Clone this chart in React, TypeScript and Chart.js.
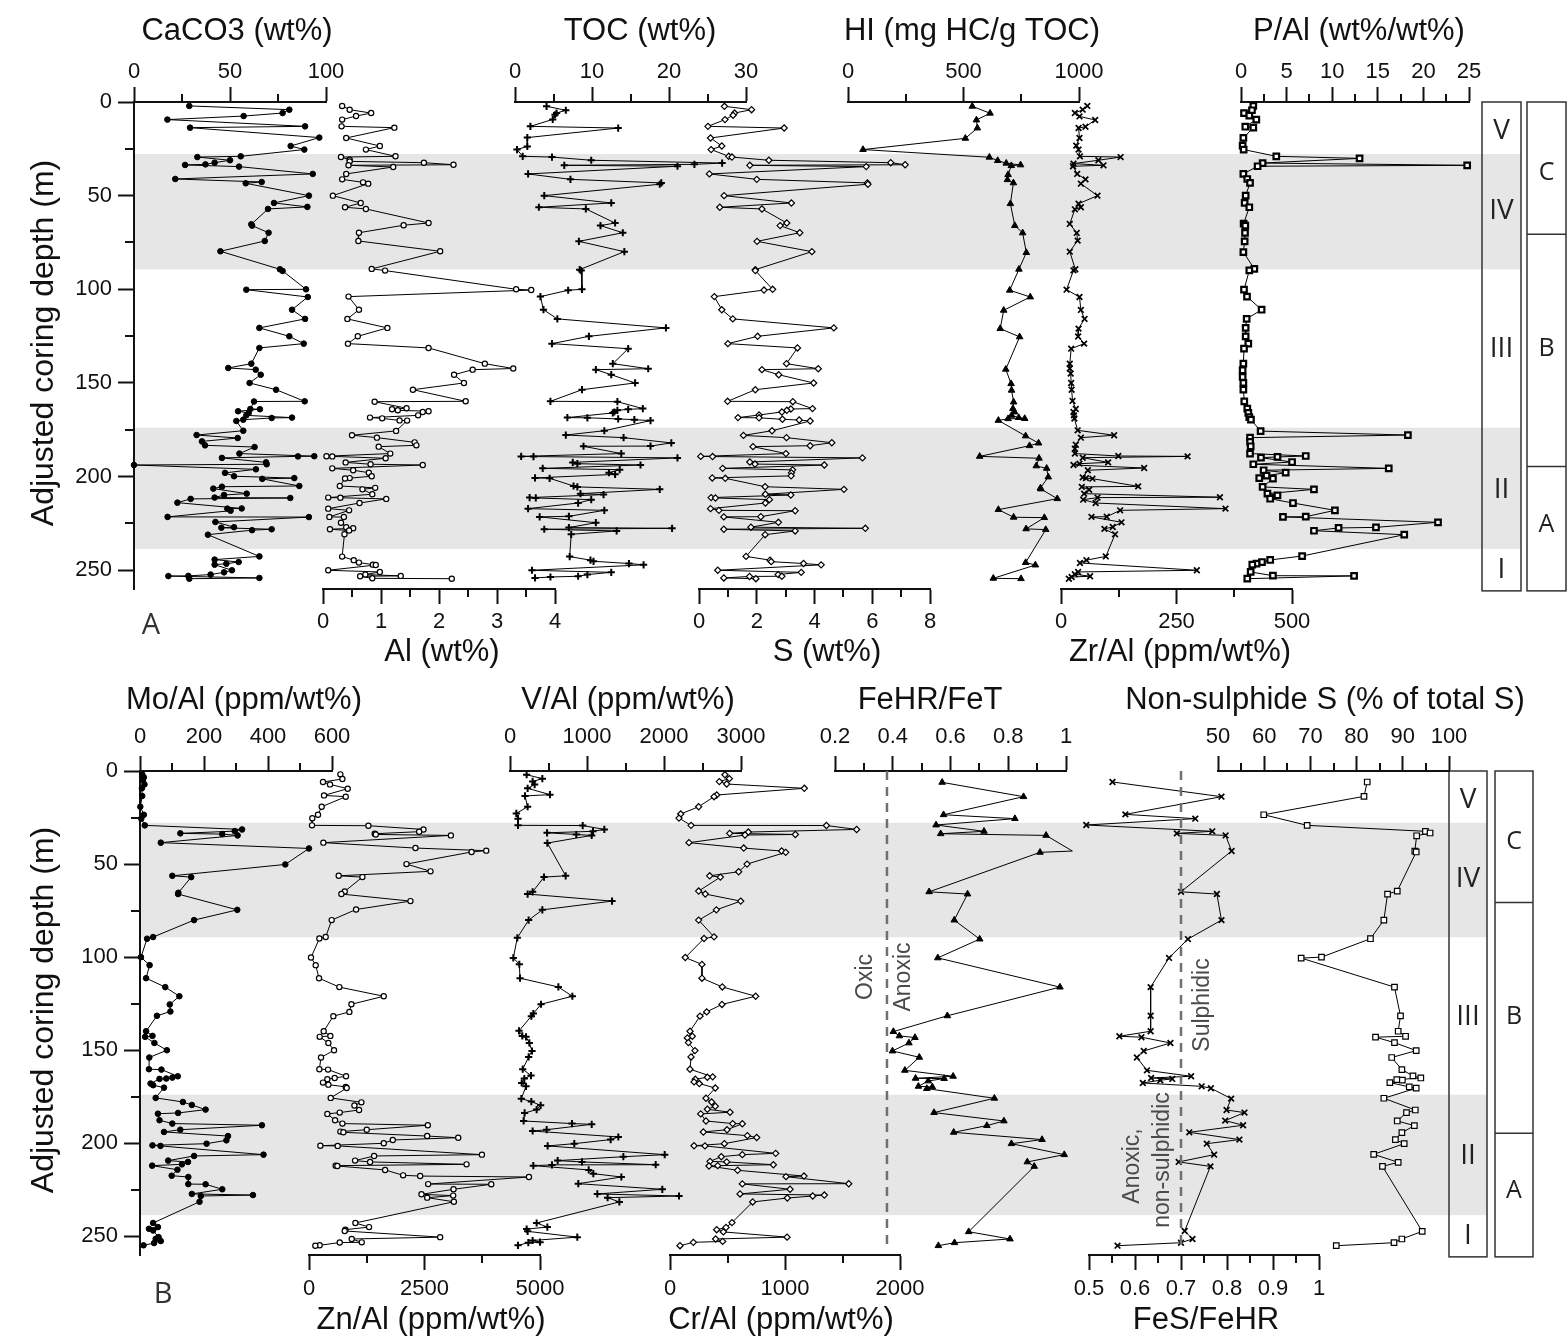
import React, { useEffect, useRef } from 'react';
import { Chart, registerables } from 'chart.js';

Chart.register(...registerables);

// ---------------- data (depth in m, values per proxy) ----------------
const CACO3_DEPTH = [2.1,4.1,5.9,7.5,9.4,13.0,13.7,19.0,23.5,25.4,29.0,29.4,31.1,32.4,33.3,33.6,34.5,38.4,41.1,42.7,43.4,50.0,53.9,56.0,57.1,65.3,66.0,69.8,74.2,79.7,89.3,90.2,100.0,100.2,104.1,110.9,115.8,120.6,125.1,129.0,131.3,139.7,142.0,142.9,145.6,150.0,153.6,159.8,159.9,163.9,164.0,165.1,166.0,167.3,168.5,168.7,169.6,170.3,175.5,177.8,179.4,181.2,183.3,184.2,187.7,189.1,189.2,190.0,192.4,193.4,193.8,196.1,198.0,199.8,200.8,201.2,205.0,205.4,206.4,209.1,209.8,211.2,211.4,211.9,213.9,217.0,217.1,218.2,221.5,221.6,224.2,227.0,227.3,228.1,228.6,231.0,242.6,244.3,245.6,246.5,247.0,250.0,251.1,252.3,253.0,253.1,254.1,254.5];
const CACO3_WT = [28.8,80.9,77.4,57.1,17.4,89.1,29.2,96.5,81.6,88.7,55.6,33.0,50.0,42.0,37.2,26.6,54.7,93.1,21.5,66.5,58.2,91.1,72.9,90.3,69.8,61.1,61.5,70.1,68.1,45.0,76.0,77.4,89.6,58.5,90.5,82.3,89.1,65.3,80.9,88.4,65.3,61.1,49.1,63.4,66.0,60.2,74.0,88.9,62.5,60.6,65.6,54.2,59.7,58.5,82.3,71.7,56.9,53.3,56.9,32.6,54.0,35.4,37.0,62.8,54.9,93.9,85.4,45.8,68.8,69.1,0,63.5,47.4,52.1,83.5,66.8,86.1,45.8,41.3,58.7,46.9,42.0,81.4,29.5,22.6,56.1,48.6,50.3,17.5,91.1,42.4,52.1,45.5,71.7,61.5,38.5,65.3,42.0,54.5,48.1,42.0,51.0,46.9,39.9,28.3,17.9,65.3,28.8];

const AL_DEPTH = [2.1,4.1,5.9,7.5,9.4,13.0,13.7,19.2,23.5,25.4,29.0,29.4,30.8,31.7,32.4,33.5,33.8,34.7,38.4,41.3,42.9,43.6,50.0,53.9,56.2,57.1,64.6,65.8,69.8,74.2,79.7,89.1,90.0,100.0,100.4,103.9,110.9,115.8,120.6,125.1,129.0,131.3,139.7,142.3,142.9,145.6,150.0,153.6,159.8,160.0,163.5,164.0,164.6,165.1,165.5,167.3,168.5,168.9,170.0,170.1,175.6,177.9,179.2,181.7,183.3,184.0,187.7,189.1,189.2,190.2,192.4,193.4,193.8,195.6,196.6,197.9,199.8,200.8,201.0,205.0,206.0,206.8,209.4,211.2,211.3,211.9,214.1,217.1,218.0,221.5,221.6,224.6,227.0,227.6,228.1,228.8,230.8,242.7,244.6,245.9,247.0,247.2,250.0,250.9,252.3,253.0,253.2,254.3,254.5];
const AL_WT = [0.33,0.46,0.83,0.57,0.33,0.32,1.23,0.40,0.98,0.74,1.25,0.31,0.46,0.46,1.74,2.25,0.44,1.21,0.40,0.33,0.69,0.78,0.17,0.65,0.38,0.74,1.82,1.39,0.62,0.61,2.02,0.84,1.07,3.33,3.59,0.44,0.62,0.42,1.11,0.60,0.43,1.82,2.79,3.28,2.58,2.26,2.43,1.55,2.46,0.89,1.44,1.19,1.29,1.82,1.72,1.64,0.81,1.02,1.32,1.45,1.26,0.50,0.93,1.58,1.61,0.96,1.16,0.06,0.16,1.08,0.39,0.82,1.72,0.16,0.52,0.79,0.84,0.46,0.38,0.29,0.90,0.68,0.85,0.09,0.30,1.09,0.63,0.09,0.45,0.11,0.36,0.31,0.40,0.52,0.12,0.45,0.37,0.33,0.53,0.62,0.86,0.91,0.09,0.98,0.73,1.34,0.64,0.85,2.22];

const TOC_DEPTH = [2.3,4.4,5.9,6.8,9.3,13.0,13.9,19.0,23.7,25.4,29.0,29.4,31.1,32.6,33.3,33.8,34.3,38.4,41.3,43.2,43.9,50.0,53.9,56.2,57.1,64.6,66.0,69.8,74.4,79.9,89.5,90.0,100.0,100.5,103.9,110.9,115.8,120.6,125.1,129.0,131.7,139.7,142.4,142.9,145.6,150.0,153.6,159.8,160.0,163.7,164.1,164.6,165.5,166.0,168.5,168.6,169.2,169.6,170.1,175.5,177.8,179.2,182.0,183.7,183.8,187.7,189.2,189.3,190.0,192.4,193.1,193.8,195.6,196.3,197.9,198.8,200.7,200.9,205.0,205.5,206.8,209.1,209.6,211.2,211.4,212.3,214.1,217.1,218.0,221.2,221.5,224.6,227.2,227.6,228.1,229.0,230.8,242.7,244.6,245.2,246.4,247.1,250.0,251.1,252.3,253.2,253.6,254.1];
const TOC_WT = [4.1,6.6,5.4,5.2,4.9,2.0,13.4,1.6,1.6,0.26,1.0,4.8,9.9,26.9,23.3,6.4,21.1,1.7,7.2,19.0,18.8,3.8,12.5,3.1,9.2,13.0,11.1,14.0,8.3,14.2,8.4,8.6,8.7,6.9,3.3,3.7,5.5,19.6,9.6,4.8,14.7,12.7,17.3,10.5,12.5,15.6,8.7,4.6,13.3,16.6,14.7,13.3,12.9,12.7,6.8,9.4,13.4,15.5,17.6,11.6,6.6,14.1,20.3,17.6,8.9,13.8,0.8,2.4,21.1,7.5,8.1,16.3,3.6,13.6,12.2,13.0,2.6,4.5,7.6,8.1,18.8,8.5,11.5,1.9,2.7,9.9,8.2,1.7,11.6,7.0,3.2,10.5,7.0,20.4,3.8,13.2,7.3,7.1,9.8,10.2,14.8,16.7,2.2,12.5,9.4,8.2,4.6,2.6];

const S_DEPTH = [2.3,4.1,5.9,7.1,9.4,13.0,13.9,19.2,23.5,25.4,29.0,29.4,31.1,32.4,33.5,33.8,34.5,38.4,41.3,43.2,43.9,50.0,53.9,56.2,57.1,64.6,66.0,69.8,74.4,79.9,89.5,90.0,100.0,100.4,103.9,110.9,115.8,120.6,125.1,129.0,131.3,139.7,142.4,142.9,145.6,150.0,153.6,159.8,160.0,163.7,163.9,164.6,165.5,167.1,168.5,168.6,169.4,169.8,170.3,175.5,178.0,179.2,181.9,183.5,184.0,187.7,189.2,189.3,190.0,192.2,193.3,193.8,195.6,196.4,198.0,199.6,200.7,200.9,205.4,206.8,209.4,209.8,211.2,211.4,212.3,214.1,217.1,218.0,218.2,221.4,221.5,224.4,227.0,227.6,228.1,229.0,231.0,242.6,244.6,245.4,246.4,247.1,250.0,251.1,252.3,253.2,253.3,254.1,254.5];
const S_WT = [0.88,1.82,1.23,1.18,0.90,0.31,2.95,0.40,0.79,0.42,1.03,1.14,2.42,6.64,7.14,1.76,5.79,0.36,2.0,5.83,5.85,0.87,3.2,0.72,2.18,3.04,2.81,3.49,2.01,3.91,1.95,1.95,2.55,2.25,0.53,0.79,1.17,4.67,2.03,1.0,3.41,3.03,4.13,2.18,2.76,3.97,1.95,0.99,3.25,3.93,3.18,3.04,2.87,2.08,1.35,2.08,2.89,3.47,3.85,2.53,1.54,3.03,4.6,3.85,1.87,3.01,0.06,0.47,5.66,1.76,1.94,4.34,0.82,3.24,3.2,3.19,0.46,0.91,2.29,5.02,2.30,3.18,0.42,0.57,2.44,2.30,0.40,0.69,3.33,2.14,0.86,2.75,1.8,5.76,0.86,3.33,2.29,1.63,2.46,2.5,3.62,4.23,0.65,3.54,2.74,2.87,1.75,0.86,1.97];

const HI_DEPTH = [2.3,6.0,9.6,13.9,19.4,25.4,29.5,31.3,32.7,33.6,34.0,38.8,41.5,43.2,54.3,66.0,69.9,80.4,89.3,100.5,104.1,111.2,121.0,125.4,142.7,150.4,153.9,160.2,163.7,165.5,167.3,168.5,169.0,169.1,170.0,178.3,182.1,183.5,189.2,190.2,194.3,195.6,200.2,206.1,206.6,211.8,217.6,221.7,221.9,227.9,228.3,245.9,247.2,254.3,254.5];
const HI_VAL = [538,615,556,560,508,65,612,648,685,747,707,693,690,716,703,722,756,772,740,700,789,674,659,743,683,706,708,717,714,721,708,739,765,693,651,769,825,786,570,827,815,860,867,833,835,906,651,717,850,771,856,769,811,629,749];

const ZR_DEPTH = [2.1,4.1,5.9,7.7,9.6,13.2,13.9,19.2,23.3,25.4,29.0,29.4,31.1,32.9,33.8,34.3,38.4,41.3,43.6,50.0,54.3,56.2,57.3,65.1,69.9,74.0,79.9,89.3,89.9,100.2,104.1,111.0,115.8,121.0,125.2,129.0,131.7,139.7,142.3,145.0,150.0,153.6,159.6,163.9,165.5,167.3,169.0,175.3,177.9,179.2,183.0,185.1,187.7,189.0,189.2,189.9,192.4,193.1,193.8,195.4,196.6,200.4,200.8,201.1,205.2,205.5,207.0,209.1,211.0,211.2,212.3,214.1,217.1,218.0,221.4,221.5,224.4,226.9,227.9,230.8,242.6,244.6,246.1,250.0,250.9,252.1,253.2,253.6,254.5];
const ZR_AL = [57,47,30,40,74,53,38,40,33,38,41,129,81,27,92,26,35,53,43,79,38,43,30,19,34,36,19,31,27,12,40,43,51,38,37,50,22,19,19,21,22,23,25,32,27,28,29,36,115,43,32,30,30,124,274,47,102,40,27,180,58,47,54,68,167,45,61,50,344,79,48,75,356,128,99,66,131,112,94,117,97,55,41,294,37,30,63,23,17];

const P_DEPTH = [2.1,4.4,5.9,7.3,9.4,13.2,13.7,19.2,23.3,25.4,29.0,30.1,32.6,33.8,34.3,38.4,41.1,43.2,50.0,53.9,56.2,64.9,66.0,69.9,74.4,80.1,89.1,89.9,100.2,103.9,110.9,115.8,120.6,125.1,129.0,131.7,139.7,143.2,146.8,150.0,153.6,159.8,163.7,166.0,168.2,169.6,175.7,177.8,179.2,181.5,183.8,187.7,189.0,189.5,189.9,192.2,193.4,195.6,196.6,197.9,199.5,200.8,201.1,205.5,206.8,209.1,210.0,211.8,214.1,218.0,221.4,221.5,224.4,227.1,227.4,228.9,231.0,242.4,244.5,245.6,246.5,247.0,250.9,252.9,253.0,254.5];
const P_AL = [1.35,1.2,0.33,0.91,1.68,0.47,1.35,0.26,0.18,0.29,3.87,13.0,2.37,24.8,1.82,0.26,0.69,0.99,0.51,0.40,0.91,0.29,0.47,0.44,0.40,0.26,1.46,0.91,0.33,0.66,2.26,0.62,0.51,0.51,0.80,0.33,0.26,0.18,0.18,0.26,0.26,0.36,0.69,0.80,0.91,1.09,2.15,18.3,0.99,1.0,1.06,0.99,7.1,4.0,2.19,5.6,1.35,16.2,2.48,4.9,2.8,2.0,3.5,2.37,8.0,2.9,4.0,3.2,5.7,10.3,7.1,4.6,21.6,14.8,10.7,8.0,17.9,6.7,3.2,2.3,1.7,1.24,1.06,3.5,12.4,0.69];

const MO_DEPTH = [1.8,3.4,4.8,7.2,9.3,13.4,19.2,23.5,25.6,29.2,31.4,32.3,33.5,33.9,34.6,38.5,41.6,50.2,56.3,57.0,65.4,66.1,74.6,80.1,89.2,90.1,100.0,104.3,111.3,116.1,121.0,125.4,129.2,131.5,139.8,142.3,142.8,146.1,150.0,153.9,160.2,160.4,164.0,164.7,165.2,165.4,167.9,168.8,170.1,175.6,177.8,179.4,181.9,183.7,184.1,187.6,189.4,190.3,192.7,193.9,196.1,198.4,200.2,201.1,201.4,206.1,206.8,209.3,210.0,211.3,212.0,214.2,217.4,218.1,221.9,222.0,224.7,227.2,227.8,228.3,231.4,242.8,245.0,245.9,246.8,250.4,251.3,252.5,253.6,254.8];
const MO_AL = [7,12,9,14,6,7,1,12,4,15,319,296,126,257,305,65,528,454,101,160,120,119,304,169,41,22,3,30,19,79,123,93,95,53,19,39,16,45,84,29,28,67,118,101,82,61,33,41,75,49,134,162,205,119,56,61,101,381,126,75,275,270,208,39,64,386,169,88,150,131,38,117,99,151,151,205,257,162,353,190,186,41,56,28,41,58,49,65,44,11];

const ZN_DEPTH = [1.8,4.3,5.9,7.2,9.5,13.1,13.8,19.2,23.5,25.4,29.2,29.4,31.4,32.6,33.7,34.1,34.6,38.5,41.4,42.8,43.5,50.0,53.9,56.3,57.0,64.7,66.1,69.9,74.4,80.1,89.2,90.0,100.2,104.3,111.3,116.1,121.0,125.3,129.4,131.7,139.8,142.3,142.8,146.1,150.0,153.9,160.2,160.4,164.0,164.9,165.6,167.4,168.5,169.7,170.3,175.6,178.0,179.7,182.1,183.5,184.2,187.6,189.4,190.3,192.7,193.7,194.1,196.1,197.0,198.2,200.0,201.3,201.4,206.1,206.8,209.3,210.0,211.3,212.0,212.2,214.3,217.2,217.6,218.1,221.9,222.0,224.7,227.4,228.1,229.2,231.4,242.8,245.0,246.4,247.1,250.4,251.4,253.2,253.3,254.8,255.0];
const ZN_AL = [679,723,303,455,838,325,795,275,195,72,65,1286,2478,2384,1423,1445,3071,311,2305,3836,3519,2110,2630,643,1156,773,701,2196,1019,491,361,224,43,145,217,657,1618,918,874,527,318,462,231,419,542,260,224,412,802,556,397,303,419,795,816,470,1134,983,1084,665,397,564,723,2572,1250,679,744,2558,3230,1813,1618,246,621,3743,1409,997,1322,3410,578,614,1647,2037,2406,4761,2579,3945,3128,2435,3121,2558,3136,1004,1300,788,773,2839,925,1142,665,231,137];

const V_DEPTH = [2.0,4.1,5.6,7.3,9.3,12.7,13.4,19.2,22.8,25.6,29.2,29.3,31.4,32.4,33.2,34.1,34.6,38.7,56.3,57.0,64.9,66.1,69.9,74.6,80.1,89.6,100.4,103.8,111.3,116.0,121.0,125.3,130.3,131.7,139.6,142.3,142.8,146.1,150.4,153.6,160.2,163.6,165.2,167.6,169.4,176.0,177.6,179.6,181.9,183.7,188.0,189.4,189.8,192.7,193.4,196.6,198.0,200.2,201.4,206.1,207.2,209.3,210.0,211.5,211.6,212.0,214.3,216.3,218.1,221.7,224.7,227.2,228.3,229.2,231.5,242.8,245.0,246.1,247.3,250.4,252.2,253.1,253.4,254.8];
const V_AL = [216,420,294,320,229,519,195,229,82,104,104,944,1225,1078,481,861,1061,485,723,442,294,229,1325,420,242,95,43,121,130,628,810,403,303,277,117,160,208,251,286,242,165,273,186,152,208,147,277,398,346,190,177,805,1061,476,294,1407,1307,835,489,2009,1472,619,935,1892,545,303,1022,1082,1446,887,1978,1134,2195,1268,1420,346,485,216,229,874,294,390,238,104];

const CR_DEPTH = [2.0,4.1,5.7,7.0,9.3,12.9,13.8,19.2,23.1,25.3,29.2,29.3,31.4,32.8,33.5,34.1,34.4,38.5,41.4,43.0,43.7,50.0,54.1,56.3,57.0,64.5,66.1,69.9,74.6,80.1,89.1,90.0,100.2,103.9,111.3,116.0,121.0,125.4,129.4,131.7,139.8,142.5,143.4,145.9,150.2,153.6,160.2,164.3,164.5,165.6,167.0,167.9,170.3,175.8,177.8,180.1,181.7,183.3,184.2,188.0,189.4,189.5,192.7,193.9,195.9,196.9,200.2,201.3,201.4,205.4,206.1,207.2,209.7,210.0,211.5,212.0,212.2,214.5,217.6,217.9,221.7,221.8,224.7,227.2,227.8,228.3,229.4,231.5,242.6,245.2,246.4,247.6,250.4,251.4,252.7,253.2,255.0];
const CR_AL = [478,516,429,493,1168,406,383,249,93,78,183,1360,1623,681,519,1090,652,165,641,971,1006,670,597,345,438,249,307,615,403,249,383,296,133,278,278,455,745,452,319,261,174,194,151,160,217,183,174,371,325,220,209,255,394,313,362,394,325,522,267,313,545,629,496,290,673,754,473,209,304,919,629,446,348,493,899,415,339,588,1165,1009,1554,629,1044,609,1342,1241,1020,719,539,487,406,464,1018,397,458,203,87];

const FEHR_DEPTH = [6.1,13.8,23.5,25.6,29.0,32.4,33.7,34.6,43.0,43.7,64.9,66.1,80.1,90.3,100.4,116.1,131.5,140.0,142.3,143.2,146.1,150.4,153.8,160.8,164.0,165.1,165.2,166.5,169.4,169.7,170.6,175.8,183.5,188.0,190.5,194.1,198.0,200.2,206.1,210.0,212.4,247.5,251.4,253.4,255.0];
const FEHR_FET = [0.571,0.853,0.576,0.823,0.550,0.716,0.566,0.931,1.022,0.910,0.526,0.659,0.613,0.701,0.556,0.979,0.589,0.402,0.423,0.477,0.456,0.399,0.492,0.442,0.609,0.479,0.578,0.523,0.489,0.537,0.518,0.752,0.543,0.785,0.726,0.611,0.917,0.811,0.994,0.866,0.890,0.663,0.806,0.614,0.558];

const FES_DEPTH = [5.9,13.8,23.3,25.6,29.0,32.4,33.5,34.6,43.0,64.9,66.1,80.1,90.3,100.4,116.1,131.5,139.8,142.5,143.0,146.1,150.4,153.9,160.8,164.0,164.9,165.4,166.1,167.6,169.4,170.4,176.0,182.1,183.5,187.8,190.3,194.1,198.0,200.2,206.1,210.0,212.4,247.1,251.4,253.4,255.0];
const FES_FEHR = [0.551,0.788,0.579,0.731,0.494,0.768,0.691,0.797,0.810,0.700,0.778,0.788,0.715,0.674,0.634,0.634,0.634,0.566,0.614,0.677,0.619,0.604,0.626,0.722,0.635,0.681,0.655,0.617,0.745,0.765,0.809,0.799,0.838,0.796,0.835,0.718,0.827,0.756,0.772,0.695,0.764,0.708,0.725,0.700,0.562];

const NONS_DEPTH = [5.9,13.6,23.5,29.2,32.4,33.3,34.8,43.0,43.5,64.5,66.1,80.1,90.1,100.0,100.5,116.1,131.5,139.8,142.5,143.0,145.9,150.2,153.9,160.4,163.8,164.9,165.8,166.1,167.4,169.7,170.4,175.8,182.1,183.5,188.0,190.5,194.3,198.0,200.2,205.9,210.2,212.4,247.3,251.4,253.4,255.0];
const NONS_PCT = [82.3,81.6,59.9,69.3,94.9,95.9,93.0,92.6,92.9,88.8,86.7,85.9,83.0,72.4,68.0,88.2,89.5,89.0,90.6,84.1,88.2,92.9,87.6,89.8,92.2,93.9,88.7,89.9,87.2,91.4,92.9,85.9,92.7,90.8,88.8,92.5,89.8,88.4,90.3,83.7,89.0,85.6,94.2,89.8,88.1,75.6];

// ---------------- ticks ----------------
const CACO3_TICKS = [0, 50, 100]; const CACO3_MINOR = [25, 75];
const AL_TICKS = [0, 1, 2, 3, 4]; const AL_MINOR = [0.5, 1.5, 2.5, 3.5];
const TOC_TICKS = [0, 10, 20, 30]; const TOC_MINOR = [5, 15, 25];
const S_TICKS = [0, 2, 4, 6, 8]; const S_MINOR = [1, 3, 5, 7];
const HI_TICKS = [0, 500, 1000]; const HI_MINOR = [250, 750];
const ZR_TICKS = [0, 250, 500]; const ZR_MINOR = [125, 375];
const P_TICKS = [0, 5, 10, 15, 20, 25]; const P_MINOR = [2.5, 7.5, 12.5, 17.5, 22.5];
const MO_TICKS = [0, 200, 400, 600]; const MO_MINOR = [100, 300, 500];
const ZN_TICKS = [0, 2500, 5000]; const ZN_MINOR = [1250, 3750];
const V_TICKS = [0, 1000, 2000, 3000]; const V_MINOR = [500, 1500, 2500];
const CR_TICKS = [0, 1000, 2000]; const CR_MINOR = [500, 1500];
const FEHR_TICKS = [0.2, 0.4, 0.6, 0.8, 1]; const FEHR_MINOR = [0.3, 0.5, 0.7, 0.9];
const FES_TICKS = [0.5, 0.6, 0.7, 0.8, 0.9, 1]; const FES_MINOR = [0.55, 0.65, 0.75, 0.85, 0.95];
const NONS_TICKS = [50, 60, 70, 80, 90, 100]; const NONS_MINOR = [55, 65, 75, 85, 95];

const DEPTH_MAX = 260;
const DEPTH_TICKS = [0, 50, 100, 150, 200, 250];
const DEPTH_MINOR = [25, 75, 125, 175, 225];
const BANDS = [[27.8, 89.3], [173.9, 238.6]];
const UNIT_LABELS = ['V', 'IV', 'III', 'II', 'I'];
const UNIT_DEPTHS = [15.5, 58, 132, 207, 250];
const ZONE_LABELS = ['C', 'B', 'A'];
const ZONE_DEPTHS = [38, 132, 225.5];
const ZONE_BREAKS = [70.6, 194.6];
const BOX_BOTTOM = 261;
const FEHR_OXIC = 0.38;
const FES_SULPHIDIC = 0.7;
const THRESH_END = 256.6;

// ---------------- styling / layout ----------------
const FONT = "'Liberation Sans', Arial, Helvetica, sans-serif";
const LABEL_FONT = "'Open Sans', 'Liberation Sans', Arial, sans-serif";
const INK = '#111111';
const BAND_COLOR = '#e6e6e6';
const MAJOR_LEN = 15;
const MINOR_LEN = 8;
const TICK_SIZE = 22;
const TITLE_SIZE = 31;
const M = 110;
const W = 1568;

type Note = { text: string; x: number; y: number };
type Panel = {
  top: number; bottom: number; depth0: number; areaH: number; axisX: number; bandRight: number;
  box1: number[]; box2: number[]; topTitleY: number; bottomTitleY: number; topPad: number; bottomPad: number;
  letter: string; letterX: number; letterY: number; depthTitleY: number; notes: Note[];
};

const PANEL_A: Panel = {
  top: 0, bottom: 680, depth0: 102, areaH: 487, axisX: 134, bandRight: 1521,
  box1: [1482, 1521], box2: [1527, 1566], topTitleY: 31, bottomTitleY: 652, topPad: 2, bottomPad: 5,
  letter: 'A', letterX: 151, letterY: 626, depthTitleY: 343, notes: [],
};
const PANEL_B: Panel = {
  top: 680, bottom: 1341, depth0: 771, areaH: 484, axisX: 140, bandRight: 1487,
  box1: [1449, 1487], box2: [1495, 1533], topTitleY: 700, bottomTitleY: 1320, topPad: 6, bottomPad: 6,
  letter: 'B', letterX: 163, letterY: 1295, depthTitleY: 1010,
  notes: [
    { text: 'Oxic', x: 866, y: 977 },
    { text: 'Anoxic', x: 904, y: 977 },
    { text: 'Sulphidic', x: 1203, y: 1005 },
    { text: 'Anoxic,', x: 1133, y: 1166 },
    { text: 'non-sulphidic', x: 1163, y: 1160 },
  ],
};
const PANELS = [PANEL_A, PANEL_B];

type Marker = 'dot' | 'ring' | 'plus' | 'diamond' | 'tri' | 'x' | 'sqFill' | 'sqOpen';
type Track = {
  key: string; panel: Panel; title: string; titleX: number; pos: 'top' | 'bottom';
  left: number; right: number; min: number; max: number; ticks: number[]; minor: number[];
  depth: number[]; values: number[]; marker: Marker; threshold?: number;
};

const TRACKS: Track[] = [
  { key: 'caco3', panel: PANEL_A, title: 'CaCO3 (wt%)', titleX: 237, pos: 'top', left: 134, right: 326, min: 0, max: 100, ticks: CACO3_TICKS, minor: CACO3_MINOR, depth: CACO3_DEPTH, values: CACO3_WT, marker: 'dot' },
  { key: 'al', panel: PANEL_A, title: 'Al (wt%)', titleX: 442, pos: 'bottom', left: 323, right: 555, min: 0, max: 4, ticks: AL_TICKS, minor: AL_MINOR, depth: AL_DEPTH, values: AL_WT, marker: 'ring' },
  { key: 'toc', panel: PANEL_A, title: 'TOC (wt%)', titleX: 640, pos: 'top', left: 515, right: 746, min: 0, max: 30, ticks: TOC_TICKS, minor: TOC_MINOR, depth: TOC_DEPTH, values: TOC_WT, marker: 'plus' },
  { key: 's', panel: PANEL_A, title: 'S (wt%)', titleX: 827, pos: 'bottom', left: 699, right: 930, min: 0, max: 8, ticks: S_TICKS, minor: S_MINOR, depth: S_DEPTH, values: S_WT, marker: 'diamond' },
  { key: 'hi', panel: PANEL_A, title: 'HI (mg HC/g TOC)', titleX: 972, pos: 'top', left: 848, right: 1079, min: 0, max: 1000, ticks: HI_TICKS, minor: HI_MINOR, depth: HI_DEPTH, values: HI_VAL, marker: 'tri' },
  { key: 'zr', panel: PANEL_A, title: 'Zr/Al (ppm/wt%)', titleX: 1180, pos: 'bottom', left: 1061, right: 1292, min: 0, max: 500, ticks: ZR_TICKS, minor: ZR_MINOR, depth: ZR_DEPTH, values: ZR_AL, marker: 'x' },
  { key: 'p', panel: PANEL_A, title: 'P/Al (wt%/wt%)', titleX: 1359, pos: 'top', left: 1241, right: 1469, min: 0, max: 25, ticks: P_TICKS, minor: P_MINOR, depth: P_DEPTH, values: P_AL, marker: 'sqFill' },
  { key: 'mo', panel: PANEL_B, title: 'Mo/Al (ppm/wt%)', titleX: 244, pos: 'top', left: 140, right: 332, min: 0, max: 600, ticks: MO_TICKS, minor: MO_MINOR, depth: MO_DEPTH, values: MO_AL, marker: 'dot' },
  { key: 'zn', panel: PANEL_B, title: 'Zn/Al (ppm/wt%)', titleX: 431, pos: 'bottom', left: 309, right: 540, min: 0, max: 5000, ticks: ZN_TICKS, minor: ZN_MINOR, depth: ZN_DEPTH, values: ZN_AL, marker: 'ring' },
  { key: 'v', panel: PANEL_B, title: 'V/Al (ppm/wt%)', titleX: 628, pos: 'top', left: 510, right: 741, min: 0, max: 3000, ticks: V_TICKS, minor: V_MINOR, depth: V_DEPTH, values: V_AL, marker: 'plus' },
  { key: 'cr', panel: PANEL_B, title: 'Cr/Al (ppm/wt%)', titleX: 781, pos: 'bottom', left: 670, right: 900, min: 0, max: 2000, ticks: CR_TICKS, minor: CR_MINOR, depth: CR_DEPTH, values: CR_AL, marker: 'diamond' },
  { key: 'fehr', panel: PANEL_B, title: 'FeHR/FeT', titleX: 930, pos: 'top', left: 835, right: 1066, min: 0.2, max: 1, ticks: FEHR_TICKS, minor: FEHR_MINOR, depth: FEHR_DEPTH, values: FEHR_FET, marker: 'tri', threshold: FEHR_OXIC },
  { key: 'fes', panel: PANEL_B, title: 'FeS/FeHR', titleX: 1206, pos: 'bottom', left: 1089, right: 1319, min: 0.5, max: 1, ticks: FES_TICKS, minor: FES_MINOR, depth: FES_DEPTH, values: FES_FEHR, marker: 'x', threshold: FES_SULPHIDIC },
  { key: 'nons', panel: PANEL_B, title: 'Non-sulphide S (% of total S)', titleX: 1325, pos: 'top', left: 1218, right: 1449, min: 50, max: 100, ticks: NONS_TICKS, minor: NONS_MINOR, depth: NONS_DEPTH, values: NONS_PCT, marker: 'sqOpen' },
];

function markerStyle(m: Marker): any {
  switch (m) {
    case 'dot': return { pointStyle: 'circle', pointRadius: 2.8, pointBackgroundColor: '#000', pointBorderColor: '#000', pointBorderWidth: 1 };
    case 'ring': return { pointStyle: 'circle', pointRadius: 2.6, pointBackgroundColor: '#fff', pointBorderColor: '#000', pointBorderWidth: 1.2 };
    case 'plus': return { pointStyle: 'cross', pointRadius: 3.6, pointBackgroundColor: '#000', pointBorderColor: '#000', pointBorderWidth: 2 };
    case 'diamond': return { pointStyle: 'rectRot', pointRadius: 3.1, pointBackgroundColor: '#fff', pointBorderColor: '#000', pointBorderWidth: 1.2 };
    case 'tri': return { pointStyle: 'triangle', pointRadius: 3.8, pointBackgroundColor: '#000', pointBorderColor: '#000', pointBorderWidth: 1 };
    case 'x': return { pointStyle: 'crossRot', pointRadius: 4, pointBackgroundColor: '#000', pointBorderColor: '#000', pointBorderWidth: 1.7 };
    case 'sqFill': return { pointStyle: 'rect', pointRadius: 3.9, pointBackgroundColor: '#fff', pointBorderColor: '#000', pointBorderWidth: 2.2 };
    default: return { pointStyle: 'rect', pointRadius: 3.9, pointBackgroundColor: '#fff', pointBorderColor: '#000', pointBorderWidth: 1.2 };
  }
}

function buildFrame(canvas: HTMLCanvasElement, p: Panel): Chart {
  const areaBottom = p.depth0 + p.areaH;
  const deco = {
    id: 'frameDeco',
    beforeDraw(chart: any) {
      const ctx = chart.ctx; const ys = chart.scales.y; const a = chart.chartArea;
      ctx.save();
      ctx.fillStyle = BAND_COLOR;
      BANDS.forEach(([d0, d1]) => {
        const y0 = ys.getPixelForValue(d0); const y1 = ys.getPixelForValue(d1);
        ctx.fillRect(a.left, y0, a.right - a.left, y1 - y0);
      });
      ctx.restore();
    },
    afterDraw(chart: any) {
      const ctx = chart.ctx; const ys = chart.scales.y; const a = chart.chartArea;
      ctx.save();
      ctx.strokeStyle = INK; ctx.lineWidth = 2; ctx.beginPath();
      DEPTH_MINOR.forEach((d) => {
        const y = Math.round(ys.getPixelForValue(d));
        ctx.moveTo(a.left, y); ctx.lineTo(a.left - MINOR_LEN - 1, y);
      });
      ctx.stroke();
      const yTop = ys.getPixelForValue(0); const yBot = ys.getPixelForValue(BOX_BOTTOM);
      ctx.strokeStyle = '#333'; ctx.lineWidth = 1.5;
      ctx.strokeRect(p.box1[0], yTop, p.box1[1] - p.box1[0], yBot - yTop);
      ctx.strokeRect(p.box2[0], yTop, p.box2[1] - p.box2[0], yBot - yTop);
      ctx.beginPath();
      ZONE_BREAKS.forEach((d) => {
        const y = ys.getPixelForValue(d);
        ctx.moveTo(p.box2[0], y); ctx.lineTo(p.box2[1], y);
      });
      ctx.stroke();
      ctx.fillStyle = '#222'; ctx.textAlign = 'center'; ctx.textBaseline = 'middle';
      ctx.font = `28px ${LABEL_FONT}`;
      const c1 = (p.box1[0] + p.box1[1]) / 2; const c2 = (p.box2[0] + p.box2[1]) / 2;
      UNIT_LABELS.forEach((t, i) => ctx.fillText(t, c1, ys.getPixelForValue(UNIT_DEPTHS[i])));
      ctx.font = `25px ${LABEL_FONT}`;
      ZONE_LABELS.forEach((t, i) => ctx.fillText(t, c2, ys.getPixelForValue(ZONE_DEPTHS[i])));
      ctx.fillStyle = '#333'; ctx.font = `29px ${LABEL_FONT}`;
      ctx.fillText(p.letter, p.letterX, p.letterY - p.top);
      ctx.fillStyle = INK; ctx.font = `32px ${FONT}`;
      ctx.save(); ctx.translate(44, p.depthTitleY - p.top); ctx.rotate(-Math.PI / 2);
      ctx.fillText('Adjusted coring depth (m)', 0, 0); ctx.restore();
      ctx.fillStyle = '#4a4a4a'; ctx.font = `23px ${FONT}`;
      p.notes.forEach((n) => {
        ctx.save(); ctx.translate(n.x, n.y - p.top); ctx.rotate(-Math.PI / 2);
        ctx.fillText(n.text, 0, 0); ctx.restore();
      });
      ctx.restore();
    },
  };
  return new Chart(canvas, {
    type: 'scatter',
    data: { datasets: [] },
    options: {
      animation: false, responsive: false, events: [],
      layout: { padding: { left: 0, right: W - p.bandRight, top: p.depth0 - p.top, bottom: p.bottom - areaBottom } },
      plugins: { legend: { display: false }, tooltip: { enabled: false } },
      scales: {
        x: { type: 'linear', display: false, min: 0, max: 1 },
        y: {
          type: 'linear', position: 'left', min: 0, max: DEPTH_MAX, reverse: true,
          afterBuildTicks: (s: any) => { s.ticks = DEPTH_TICKS.map((v) => ({ value: v })); },
          afterFit: (s: any) => { s.width = p.axisX; },
          grid: { drawOnChartArea: false, drawTicks: true, tickLength: 16, tickWidth: 2, tickColor: INK },
          border: { display: true, color: INK, width: 2 },
          ticks: { color: INK, font: { family: FONT, size: TICK_SIZE }, padding: 6, callback: (v: any) => String(v) },
        },
      },
    } as any,
    plugins: [deco as any],
  });
}

function buildTrack(canvas: HTMLCanvasElement, t: Track): Chart {
  const p = t.panel;
  const areaBottom = p.depth0 + p.areaH;
  const isTop = t.pos === 'top';
  const axisH = isTop ? p.depth0 - p.top : p.bottom - areaBottom;
  const canvasLeft = t.left - M;
  const points = t.depth
    .map((d, i) => ({ x: t.values[i], y: d }))
    .filter((pt) => Number.isFinite(pt.x));
  const datasets: any[] = [];
  if (t.threshold !== undefined) {
    datasets.push({
      data: [{ x: t.threshold, y: 0 }, { x: t.threshold, y: THRESH_END }],
      showLine: true, borderColor: '#707070', borderWidth: 2.5, borderDash: [9, 7], pointRadius: 0, clip: false,
    });
  }
  datasets.push({ data: points, showLine: true, borderColor: '#000', borderWidth: 1, clip: false, ...markerStyle(t.marker) });
  const deco = {
    id: 'trackDeco',
    afterDraw(chart: any) {
      const ctx = chart.ctx; const xs = chart.scales.x; const a = chart.chartArea;
      ctx.save();
      ctx.strokeStyle = INK; ctx.lineWidth = 2; ctx.beginPath();
      t.minor.forEach((v) => {
        const px = Math.round(xs.getPixelForValue(v));
        if (isTop) { ctx.moveTo(px, a.top); ctx.lineTo(px, a.top - MINOR_LEN); }
        else { ctx.moveTo(px, a.bottom); ctx.lineTo(px, a.bottom + MINOR_LEN); }
      });
      ctx.stroke();
      ctx.fillStyle = INK; ctx.font = `${TITLE_SIZE}px ${FONT}`; ctx.textAlign = 'center'; ctx.textBaseline = 'middle';
      ctx.fillText(t.title, t.titleX - canvasLeft, (isTop ? p.topTitleY : p.bottomTitleY) - p.top);
      ctx.restore();
    },
  };
  return new Chart(canvas, {
    type: 'scatter',
    data: { datasets },
    options: {
      animation: false, responsive: false, events: [],
      layout: { padding: { left: M, right: M, top: isTop ? 0 : p.depth0 - p.top, bottom: isTop ? p.bottom - areaBottom : 0 } },
      plugins: { legend: { display: false }, tooltip: { enabled: false } },
      scales: {
        x: {
          type: 'linear', position: t.pos, min: t.min, max: t.max,
          afterBuildTicks: (s: any) => { s.ticks = t.ticks.map((v) => ({ value: v })); },
          afterFit: (s: any) => { s.height = axisH; },
          grid: { drawOnChartArea: false, drawTicks: true, tickLength: MAJOR_LEN, tickWidth: 2, tickColor: INK },
          border: { display: true, color: INK, width: 2 },
          ticks: {
            color: INK, font: { family: FONT, size: TICK_SIZE }, padding: isTop ? p.topPad : p.bottomPad,
            maxRotation: 0, minRotation: 0, autoSkip: false, callback: (v: any) => String(v),
          },
        },
        y: { type: 'linear', display: false, min: 0, max: DEPTH_MAX, reverse: true },
      },
    } as any,
    plugins: [deco as any],
  });
}

export default function App() {
  const frameRefs = useRef<(HTMLCanvasElement | null)[]>([]);
  const trackRefs = useRef<(HTMLCanvasElement | null)[]>([]);

  useEffect(() => {
    const charts: Chart[] = [];
    PANELS.forEach((p, i) => {
      const c = frameRefs.current[i];
      if (c) charts.push(buildFrame(c, p));
    });
    TRACKS.forEach((t, i) => {
      const c = trackRefs.current[i];
      if (c) charts.push(buildTrack(c, t));
    });
    return () => charts.forEach((c) => c.destroy());
  }, []);

  return (
    <div style={{ position: 'absolute', left: 0, top: 0, width: W, height: 1341, background: '#fff', overflow: 'hidden' }}>
      {PANELS.map((p, i) => {
        const h = p.bottom - p.top;
        return (
          <canvas
            key={'frame' + i}
            ref={(el) => { frameRefs.current[i] = el; }}
            width={W}
            height={h}
            style={{ position: 'absolute', left: 0, top: p.top, width: W, height: h }}
          />
        );
      })}
      {TRACKS.map((t, i) => {
        const w = t.right - t.left + 2 * M;
        const h = t.panel.bottom - t.panel.top;
        return (
          <canvas
            key={t.key}
            ref={(el) => { trackRefs.current[i] = el; }}
            width={w}
            height={h}
            style={{ position: 'absolute', left: t.left - M, top: t.panel.top, width: w, height: h }}
          />
        );
      })}
    </div>
  );
}
